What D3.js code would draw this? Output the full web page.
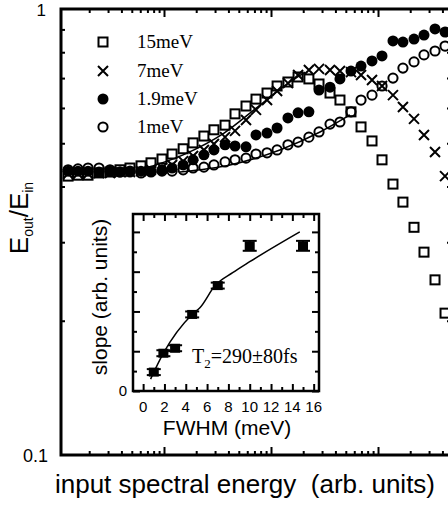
<!DOCTYPE html>
<html>
<head>
<meta charset="utf-8">
<script src="https://cdn.jsdelivr.net/npm/d3@7"></script>
<style>body{margin:0;background:#fff}</style>
</head>
<body>
<script>
// input spectral energy (arb. units), shared by all four series
var energy = [1.27, 1.57, 1.95, 2.47, 3.13, 3.88, 4.81, 6.1, 7.56, 9.58, 11.9, 15.1, 18.7, 23.6, 29.3,
    37.2, 46.1, 58.4, 72.4, 91.8, 114, 144, 179, 226, 281, 356, 441, 559, 694, 879, 1090, 1380,
    1710, 2170, 2690, 3410, 4230];

// Eout/Ein for each spectral width
var ratio15 = [0.422, 0.424, 0.424, 0.429, 0.431, 0.436, 0.440, 0.445, 0.452, 0.461, 0.473, 0.486,
    0.501, 0.519, 0.536, 0.549, 0.582, 0.606, 0.628, 0.648, 0.672, 0.686, 0.704, 0.697, 0.679,
    0.648, 0.625, 0.588, 0.544, 0.506, 0.459, 0.405, 0.369, 0.324, 0.285, 0.247, 0.208];
var ratio7 = [0.427, 0.427, 0.427, 0.429, 0.429, 0.431, 0.431, 0.433, 0.436, 0.440, 0.447, 0.456,
    0.468, 0.483, 0.498, 0.516, 0.533, 0.564, 0.594, 0.625, 0.655, 0.682, 0.711, 0.730, 0.734,
    0.730, 0.726, 0.722, 0.711, 0.693, 0.672, 0.641, 0.603, 0.567, 0.522, 0.478, 0.422];
var ratio19 = [0.433, 0.433, 0.433, 0.431, 0.433, 0.431, 0.431, 0.433, 0.433, 0.436, 0.440, 0.447,
    0.459, 0.471, 0.483, 0.496, 0.493, 0.491, 0.522, 0.527, 0.541, 0.570, 0.585, 0.588, 0.658,
    0.668, 0.697, 0.726, 0.745, 0.765, 0.785, 0.848, 0.843, 0.856, 0.874, 0.902, 0.888];
var ratio1 = [0.436, 0.438, 0.440, 0.440, 0.436, 0.431, 0.433, 0.429, 0.431, 0.433, 0.433, 0.436,
    0.440, 0.442, 0.447, 0.454, 0.459, 0.463, 0.473, 0.476, 0.483, 0.496, 0.503, 0.516, 0.530,
    0.552, 0.558, 0.588, 0.625, 0.641, 0.672, 0.700, 0.737, 0.761, 0.789, 0.805, 0.826];

// fitted curves drawn through the rising edges
var fitAEnergy = [5.97, 15.1, 36.4, 78.9, 150.6, 208];
var fitARatio = [0.436, 0.471, 0.527, 0.609, 0.686, 0.722];
var fitBEnergy = [14.1, 41.4, 121, 287, 547];
var fitBRatio = [0.431, 0.447, 0.483, 0.530, 0.579];

var legendLabels = ["15meV", "7meV", "1.9meV", "1meV"];

// inset: slope vs FWHM
var fwhm = [1, 1.9, 3, 4.6, 7, 10, 15];
var slope = [0.95, 1.9, 2.15, 3.85, 5.3, 7.3, 7.3];
var slopeErr = [0.15, 0.15, 0.15, 0.15, 0.15, 0.25, 0.25];
var fitFwhm = [0.7, 1.9, 4.6, 5.35, 6.75, 8.4, 10, 14.7];
var fitSlope = [0.6, 1.9, 3.85, 4.2, 5.3, 5.95, 6.5, 8.0];
var insetTickLabels = [0, 2, 4, 6, 8, 10, 12, 14, 16];

var sans = "'Liberation Sans', Arial, sans-serif";
var serif = "'Liberation Serif', 'Times New Roman', serif";

var svg = d3.select("body").append("svg")
    .attr("width", 448)
    .attr("height", 512);

var x = d3.scaleLog().domain([1.09, 4810]).range([61, 451]);
var y = d3.scaleLog().domain([0.1, 1]).range([455, 9]);

// log ticks
var xTicks = [];
[1, 10, 100, 1000].forEach(function (d) {
    for (var k = 1; k <= 9; k++) {
        var v = k * d;
        if (v >= 1.09 && v <= 4810) xTicks.push(v);
    }
});
var yTicks = [0.2, 0.3, 0.4, 0.5, 0.6, 0.7, 0.8, 0.9];

function tickLen(v) {
    var l = Math.log10(v);
    return Math.abs(l - Math.round(l)) < 1e-6 ? 8 : 4;
}

function styleAxis(g, attr, sign) {
    g.select(".domain").remove();
    g.selectAll(".tick line")
        .attr("stroke", "#000")
        .attr("stroke-width", 2)
        .attr(attr, function (d) { return sign * tickLen(d); });
}

svg.append("g").attr("transform", "translate(0,455)")
    .call(d3.axisBottom(x).tickValues(xTicks).tickFormat(""))
    .call(styleAxis, "y2", -1);
svg.append("g").attr("transform", "translate(0,9)")
    .call(d3.axisTop(x).tickValues(xTicks).tickFormat(""))
    .call(styleAxis, "y2", 1);
svg.append("g").attr("transform", "translate(61,0)")
    .call(d3.axisLeft(y).tickValues(yTicks).tickFormat(""))
    .call(styleAxis, "x2", 1);
svg.append("g").attr("transform", "translate(451,0)")
    .call(d3.axisRight(y).tickValues(yTicks).tickFormat(""))
    .call(styleAxis, "x2", -1);

svg.append("rect")
    .attr("x", x(1.09)).attr("y", y(1))
    .attr("width", x(4810) - x(1.09)).attr("height", y(0.1) - y(1))
    .attr("fill", "none").attr("stroke", "#000").attr("stroke-width", 3);

// y labels
svg.append("text").attr("x", 46).attr("y", 16).attr("text-anchor", "end")
    .style("font", "17px " + sans).text("1");
svg.append("text").attr("x", 48).attr("y", y(0.1) + 7).attr("text-anchor", "end")
    .style("font", "18px " + sans).text("0.1");

var yTitle = svg.append("text")
    .attr("transform", "translate(28,218) rotate(-90)")
    .attr("text-anchor", "middle")
    .style("font", "26px " + sans);
yTitle.append("tspan").text("E");
yTitle.append("tspan").attr("dy", 5).style("font-size", "14px").text("out");
yTitle.append("tspan").attr("dy", -5).text("/E");
yTitle.append("tspan").attr("dy", 5).style("font-size", "14px").text("in");

svg.append("text")
    .attr("x", 245).attr("y", 493)
    .attr("text-anchor", "middle")
    .style("font", "26px " + sans)
    .style("white-space", "pre")
    .text("input spectral energy  (arb. units)");

// fit lines
var line = d3.line()
    .x(function (d) { return x(d[0]); })
    .y(function (d) { return y(d[1]); })
    .curve(d3.curveMonotoneX);

svg.append("path")
    .datum(d3.zip(fitAEnergy, fitARatio))
    .attr("d", line).attr("fill", "none").attr("stroke", "#000").attr("stroke-width", 1.5);
svg.append("path")
    .datum(d3.zip(fitBEnergy, fitBRatio))
    .attr("d", line).attr("fill", "none").attr("stroke", "#000").attr("stroke-width", 1.5);

// marker helpers
function drawSquare(g, cx, cy) {
    g.append("rect").attr("x", cx - 4.5).attr("y", cy - 4.5)
        .attr("width", 9).attr("height", 9)
        .attr("fill", "none").attr("stroke", "#000").attr("stroke-width", 2);
}
function drawCross(g, cx, cy) {
    g.append("path")
        .attr("d", "M" + (cx - 5) + "," + (cy - 5) + "L" + (cx + 5) + "," + (cy + 5) +
            "M" + (cx - 5) + "," + (cy + 5) + "L" + (cx + 5) + "," + (cy - 5))
        .attr("stroke", "#000").attr("stroke-width", 2);
}
function drawDot(g, cx, cy) {
    g.append("circle").attr("cx", cx).attr("cy", cy).attr("r", 5.5).attr("fill", "#000");
}
function drawRing(g, cx, cy) {
    g.append("circle").attr("cx", cx).attr("cy", cy).attr("r", 4.6)
        .attr("fill", "none").attr("stroke", "#000").attr("stroke-width", 2);
}

var series = [
    { values: ratio1, draw: drawRing },
    { values: ratio19, draw: drawDot },
    { values: ratio7, draw: drawCross },
    { values: ratio15, draw: drawSquare }
];

series.forEach(function (s) {
    var g = svg.append("g");
    s.values.forEach(function (v, i) {
        s.draw(g, x(energy[i]), y(v));
    });
});

// legend
var legendDraw = [drawSquare, drawCross, drawDot, drawRing];
var legendY = [42, 71, 99, 127];
legendLabels.forEach(function (lab, i) {
    var g = svg.append("g");
    legendDraw[i](g, 103, legendY[i]);
    g.append("text").attr("x", 137).attr("y", legendY[i] + 6)
        .style("font", "19px " + serif).text(lab);
});

// inset
var ix = d3.scaleLinear().domain([-0.95, 16.5]).range([133, 319]);
var iy = d3.scaleLinear().domain([0, 8.9]).range([391, 214]);

svg.append("rect")
    .attr("x", ix(-0.95)).attr("y", iy(8.9))
    .attr("width", ix(16.5) - ix(-0.95)).attr("height", iy(0) - iy(8.9))
    .attr("fill", "#fff");

var ixTicks = d3.range(0, 17);
var iyTicks = d3.range(0, 9);
function insetLen(d) { return d % 2 === 0 ? 7 : 4; }
function styleInset(g, attr, sign) {
    g.select(".domain").remove();
    g.selectAll(".tick line")
        .attr("stroke", "#000").attr("stroke-width", 2)
        .attr(attr, function (d) { return sign * insetLen(d); });
}

svg.append("g").attr("transform", "translate(0," + iy(0) + ")")
    .call(d3.axisBottom(ix).tickValues(ixTicks).tickFormat(""))
    .call(styleInset, "y2", -1);
svg.append("g").attr("transform", "translate(0," + iy(8.9) + ")")
    .call(d3.axisTop(ix).tickValues(ixTicks).tickFormat(""))
    .call(styleInset, "y2", 1);
svg.append("g").attr("transform", "translate(" + ix(-0.95) + ",0)")
    .call(d3.axisLeft(iy).tickValues(iyTicks).tickFormat(""))
    .call(styleInset, "x2", 1);
svg.append("g").attr("transform", "translate(" + ix(16.5) + ",0)")
    .call(d3.axisRight(iy).tickValues(iyTicks).tickFormat(""))
    .call(styleInset, "x2", -1);

svg.append("rect")
    .attr("x", ix(-0.95)).attr("y", iy(8.9))
    .attr("width", ix(16.5) - ix(-0.95)).attr("height", iy(0) - iy(8.9))
    .attr("fill", "none").attr("stroke", "#000").attr("stroke-width", 2.5);

svg.selectAll(".itl")
    .data(insetTickLabels)
    .enter()
    .append("text")
    .attr("x", function (d) { return ix(d); })
    .attr("y", 412)
    .attr("text-anchor", "middle")
    .style("font", "15px " + sans)
    .text(function (d) { return d; });

svg.append("text").attr("x", 127).attr("y", 396).attr("text-anchor", "end")
    .style("font", "15px " + sans).text("0");

svg.append("text")
    .attr("x", 227).attr("y", 435)
    .attr("text-anchor", "middle")
    .style("font", "21px " + sans)
    .text("FWHM (meV)");

svg.append("text")
    .attr("transform", "translate(107,297) rotate(-90)")
    .attr("text-anchor", "middle")
    .style("font", "21px " + sans)
    .text("slope (arb. units)");

var iline = d3.line()
    .x(function (d) { return ix(d[0]); })
    .y(function (d) { return iy(d[1]); })
    .curve(d3.curveMonotoneX);
svg.append("path")
    .datum(d3.zip(fitFwhm, fitSlope))
    .attr("d", iline).attr("fill", "none").attr("stroke", "#000").attr("stroke-width", 1.5);

fwhm.forEach(function (f, i) {
    var cx = ix(f), cy = iy(slope[i]);
    var top = iy(slope[i] + slopeErr[i]), bot = iy(slope[i] - slopeErr[i]);
    svg.append("line").attr("x1", cx).attr("x2", cx).attr("y1", top).attr("y2", bot)
        .attr("stroke", "#000").attr("stroke-width", 2);
    [top, bot].forEach(function (yy) {
        svg.append("line").attr("x1", cx - 7).attr("x2", cx + 7).attr("y1", yy).attr("y2", yy)
            .attr("stroke", "#000").attr("stroke-width", 2);
    });
    svg.append("rect").attr("x", cx - 5).attr("y", cy - 4.5)
        .attr("width", 10).attr("height", 9).attr("fill", "#000");
});

var t2 = svg.append("text")
    .attr("x", 192).attr("y", 363)
    .style("font", "20px " + serif);
t2.append("tspan").text("T");
t2.append("tspan").attr("dy", 5).style("font-size", "13px").text("2");
t2.append("tspan").attr("dy", -5).text("=290\u00b180fs");
</script>
</body>
</html>
